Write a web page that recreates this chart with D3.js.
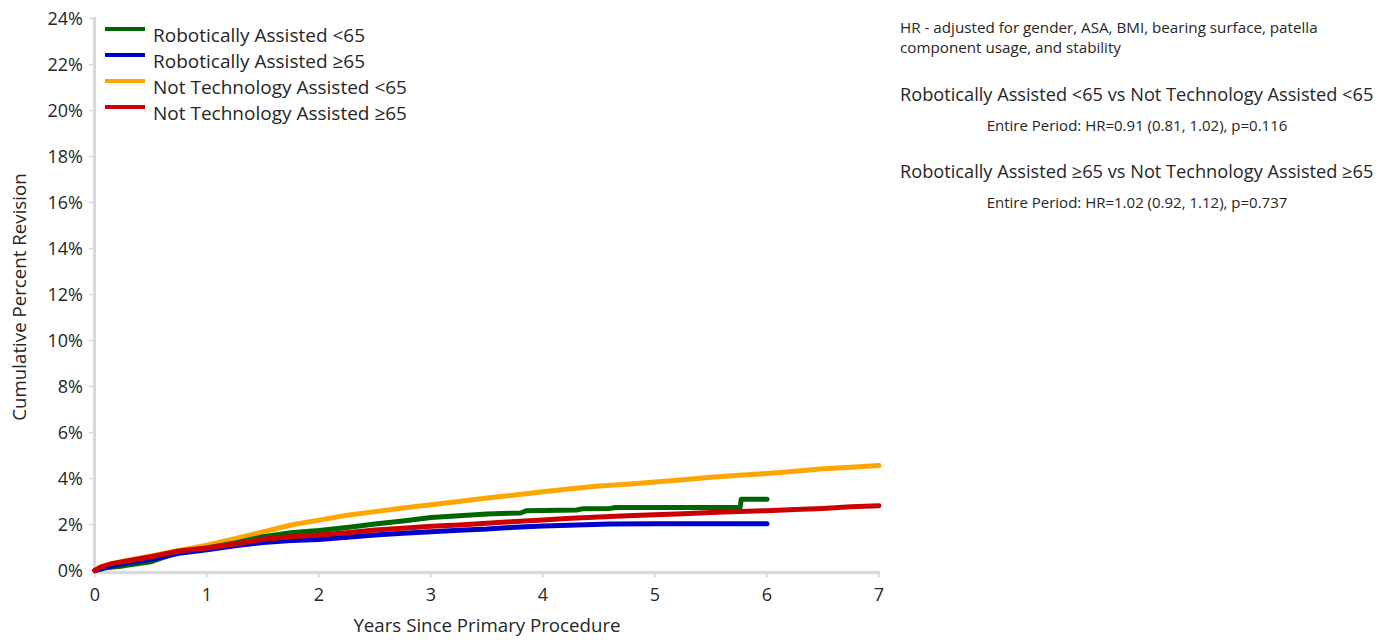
<!DOCTYPE html>
<html><head><meta charset="utf-8">
<script src="https://cdn.jsdelivr.net/npm/d3@7"></script>
<style>
body{margin:0;background:#fff;}
svg{display:block;font-family:"Open Sans","Noto Sans",sans-serif;}
</style></head>
<body><svg id="c" width="1389" height="640"></svg>
<script>
const seriesNames = ["Robotically Assisted <65","Robotically Assisted \u226565","Not Technology Assisted <65","Not Technology Assisted \u226565"];
const seriesColors = ["#006400","#0000cc","#ffa500","#cc0000"];
const xTicks = [0,1,2,3,4,5,6,7];
const yTicks = [0,2,4,6,8,10,12,14,16,18,20,22,24];
// [years, cumulative percent revision]
const roboUnder65 = [[0,0],[0.1,0.12],[0.25,0.2],[0.5,0.38],[0.75,0.8],[1,0.98],[1.25,1.2],[1.5,1.47],[1.75,1.64],[2,1.74],[2.25,1.87],[2.5,2.02],[2.75,2.15],[3,2.3],[3.25,2.38],[3.5,2.46],[3.8,2.5],[3.85,2.6],[4.3,2.63],[4.35,2.68],[4.6,2.7],[4.65,2.74],[5.76,2.74],[5.77,3.1],[6,3.1]];
const roboOver65 = [[0,0],[0.1,0.15],[0.25,0.3],[0.5,0.49],[0.75,0.75],[1,0.9],[1.25,1.08],[1.5,1.22],[1.75,1.3],[2,1.35],[2.25,1.45],[2.5,1.54],[2.75,1.62],[3,1.68],[3.25,1.75],[3.5,1.8],[3.75,1.88],[4,1.93],[4.3,1.98],[4.6,2.02],[5,2.03],[6,2.03]];
const notTechUnder65 = [[0,0],[0.05,0.15],[0.15,0.3],[0.25,0.4],[0.5,0.63],[0.75,0.87],[1,1.1],[1.25,1.38],[1.5,1.68],[1.75,1.98],[2,2.19],[2.25,2.4],[2.5,2.56],[2.75,2.72],[3,2.86],[3.25,3.0],[3.5,3.15],[3.75,3.28],[4,3.42],[4.25,3.55],[4.5,3.67],[4.75,3.75],[5,3.85],[5.25,3.95],[5.5,4.05],[5.75,4.14],[6,4.22],[6.25,4.32],[6.5,4.42],[6.75,4.49],[7,4.56]];
const notTechOver65 = [[0,0],[0.05,0.15],[0.15,0.3],[0.25,0.38],[0.5,0.6],[0.75,0.85],[1,0.98],[1.25,1.15],[1.5,1.36],[1.75,1.47],[2,1.54],[2.25,1.64],[2.5,1.76],[2.75,1.84],[3,1.92],[3.25,1.98],[3.5,2.05],[3.75,2.13],[4,2.2],[4.25,2.27],[4.5,2.33],[4.75,2.38],[5,2.42],[5.25,2.47],[5.5,2.52],[5.75,2.56],[6,2.6],[6.25,2.65],[6.5,2.7],[6.75,2.77],[7,2.82]];
const seriesData = [roboUnder65, roboOver65, notTechUnder65, notTechOver65];
const drawOrder = [2,0,1,3];
const noteLines = ["HR - adjusted for gender, ASA, BMI, bearing surface, patella","component usage, and stability"];
const compTitles = ["Robotically Assisted <65 vs Not Technology Assisted <65","Robotically Assisted \u226565 vs Not Technology Assisted \u226565"];
const compStats = ["Entire Period: HR=0.91 (0.81, 1.02), p=0.116","Entire Period: HR=1.02 (0.92, 1.12), p=0.737"];

const svg = d3.select("#c");
const x = d3.scaleLinear().domain([0,7]).range([95,879]);
const y = d3.scaleLinear().domain([0,24]).range([570.5,18.5]);
const txt = "#262626";

// axes lines
svg.append("line").attr("x1",94.5).attr("x2",94.5).attr("y1",17).attr("y2",574)
  .attr("stroke","#d9d9d9").attr("stroke-width",3);
svg.append("line").attr("x1",93).attr("x2",880).attr("y1",572.5).attr("y2",572.5)
  .attr("stroke","#d9d9d9").attr("stroke-width",3.5);

// y ticks
const yg = svg.append("g");
yTicks.forEach(t=>{
  yg.append("line").attr("x1",89).attr("x2",93).attr("y1",y(t)).attr("y2",y(t)).attr("stroke","#d9d9d9").attr("stroke-width",1.5);
  yg.append("text").attr("x",83).attr("y",y(t)).attr("dy","0.35em").attr("text-anchor","end")
    .attr("font-size",18).attr("fill",txt).text(t+"%");
});
// x ticks
const xg = svg.append("g");
xTicks.forEach(t=>{
  xg.append("line").attr("x1",x(t)).attr("x2",x(t)).attr("y1",574).attr("y2",577).attr("stroke","#d9d9d9").attr("stroke-width",1.5);
  xg.append("text").attr("x",x(t)).attr("y",595).attr("dy","0.35em").attr("text-anchor","middle")
    .attr("font-size",18).attr("fill",txt).text(t);
});
svg.append("text").attr("x",487).attr("y",625).attr("dy","0.35em").attr("text-anchor","middle")
  .attr("font-size",18.7).attr("fill",txt).text("Years Since Primary Procedure");
svg.append("text").attr("transform","translate(19,297) rotate(-90)").attr("dy","0.35em").attr("text-anchor","middle")
  .attr("font-size",18.7).attr("fill",txt).text("Cumulative Percent Revision");

// lines
const line = d3.line().x(d=>x(d[0])).y(d=>y(d[1])).curve(d3.curveLinear);
drawOrder.forEach(i=>{
  svg.append("path").datum(seriesData[i]).attr("d",line).attr("fill","none")
    .attr("stroke",seriesColors[i]).attr("stroke-width",5).attr("stroke-linejoin","round").attr("stroke-linecap","round");
});

// legend
seriesNames.forEach((n,i)=>{
  const yy = 29 + i*26;
  svg.append("line").attr("x1",105).attr("x2",145).attr("y1",yy).attr("y2",yy).attr("stroke",seriesColors[i]).attr("stroke-width",4);
  svg.append("text").attr("x",153).attr("y",yy+6).attr("dy","0.35em").attr("font-size",19).attr("fill",txt).text(n);
});

// notes
noteLines.forEach((t,i)=>{
  svg.append("text").attr("x",900).attr("y",28+i*20).attr("dy","0.35em").attr("font-size",15.2).attr("fill",txt).text(t);
});
compTitles.forEach((t,i)=>{
  svg.append("text").attr("x",900).attr("y",95+i*77).attr("dy","0.35em").attr("font-size",18.2).attr("fill",txt).text(t);
  svg.append("text").attr("x",1137).attr("y",126+i*77).attr("dy","0.35em").attr("text-anchor","middle").attr("font-size",15).attr("fill",txt).text(compStats[i]);
});
</script></body></html>
